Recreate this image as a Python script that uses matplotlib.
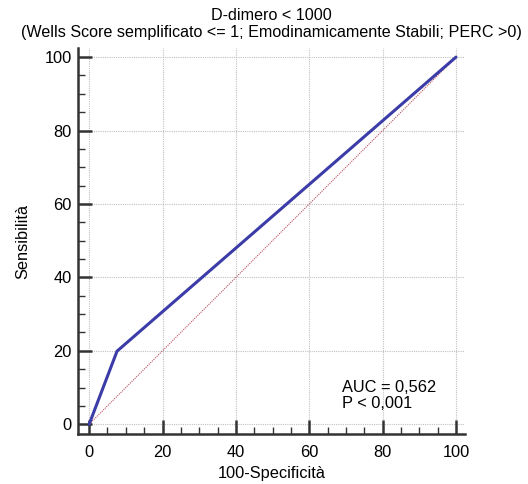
import matplotlib
matplotlib.use("Agg")
import matplotlib.pyplot as plt
from matplotlib.ticker import MultipleLocator

plt.rcParams['font.family'] = ['Liberation Sans', 'DejaVu Sans']

roc_x = [0, 7.6, 100]
roc_y = [0, 19.9, 100]
ref_x = [0, 100]
ref_y = [0, 100]
ticks = [0, 20, 40, 60, 80, 100]
title = "D-dimero < 1000\n(Wells Score semplificato <= 1; Emodinamicamente Stabili; PERC >0)"
xlabel = "100-Specificità"
ylabel = "Sensibilità"
stats_text = "AUC = 0,562\nP < 0,001"

fig = plt.figure(figsize=(5.28, 4.84), dpi=100)
ax = fig.add_axes([0.148, 0.103, 0.733, 0.798])

ax.set_xlim(-3, 102.5)
ax.set_ylim(-2.7, 102.5)

grid_kw = dict(color='#c0c0c0', ls=(0, (1, 1)), lw=0.8, zorder=0)
ax.hlines(ticks, 0, 102.5, **grid_kw)
ax.vlines(ticks, 0, 102.5, **grid_kw)

ax.plot(ref_x, ref_y, color='#b85058', lw=0.8, ls=(0, (1, 1)))
ax.plot(roc_x, roc_y, color='#3c3ca8', lw=2.2, solid_capstyle='round')

ax.set_xticks(ticks)
ax.set_yticks(ticks)
ax.xaxis.set_minor_locator(MultipleLocator(5))
ax.yaxis.set_minor_locator(MultipleLocator(5))
for s in ['top', 'right']:
    ax.spines[s].set_visible(False)
for s in ['left', 'bottom']:
    ax.spines[s].set_linewidth(1.8)
    ax.spines[s].set_color('#333333')
ax.tick_params(which='major', direction='in', length=10, width=1.8, color='#333333', labelsize=11.8)
ax.tick_params(axis='x', which='major', pad=8)
ax.tick_params(axis='y', which='major', pad=4.5)
ax.tick_params(which='minor', direction='in', length=5, width=1, color='#333333')

ax.set_xlabel(xlabel, fontsize=11.8, labelpad=4)
ax.set_ylabel(ylabel, fontsize=11.8, labelpad=10)
ax.set_title(title, fontsize=11.6, pad=7.5, linespacing=1.2)
ax.text(69, 3.6, stats_text, fontsize=11.8, va='bottom', ha='left', linespacing=1.1)

fig.savefig("out.png", dpi=100)
